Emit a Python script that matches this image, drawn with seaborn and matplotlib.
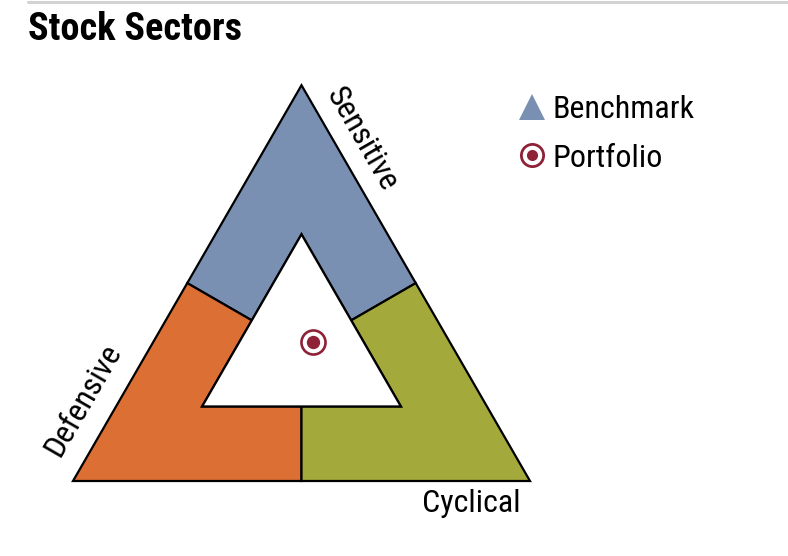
import numpy as np
import matplotlib
matplotlib.use("Agg")
import matplotlib.pyplot as plt
from matplotlib.patches import Polygon
from matplotlib.lines import Line2D
import seaborn as sns
import pandas as pd

# ---- data ----
sectors = ["Cyclical", "Sensitive", "Defensive"]
portfolio_pct = [35.0, 35.1, 29.9]   # cyclical, sensitive, defensive
legend_labels = ["Benchmark", "Portfolio"]
title = "Stock Sectors"

sns.set_theme(style="white")
plt.rcParams["font.family"] = ["Roboto Condensed", "DejaVu Sans"]
plt.rcParams["text.color"] = "black"

W, H = 788, 556
fig = plt.figure(figsize=(W / 100, H / 100), dpi=100)
h3 = np.sqrt(3) / 2
x0, x1, yb = 73, 530, 481
ax = fig.add_axes([x0 / W, (H - yb) / H, (x1 - x0) / W, (x1 - x0) * h3 / H])
ax.set_xlim(0, 1)
ax.set_ylim(0, h3)
ax.axis("off")

BL, BR, TOP = np.array([0, 0]), np.array([1, 0]), np.array([0.5, h3])
C = (BL + BR + TOP) / 3
k = 0.435
iBL, iBR, iTOP = C + k * (BL - C), C + k * (BR - C), C + k * (TOP - C)
mid = lambda a, b: (a + b) / 2

blue, orange, green, red = "#7a90b3", "#dc6f33", "#a3a93a", "#8e2237"
ec = dict(edgecolor="black", linewidth=1.6, joinstyle="miter")

sens = [mid(BL, TOP), TOP, mid(TOP, BR), mid(iTOP, iBR), iTOP, mid(iBL, iTOP)]
defe = [BL, mid(BL, BR), mid(iBL, iBR), iBL, mid(iBL, iTOP), mid(BL, TOP)]
cycl = [mid(BL, BR), BR, mid(TOP, BR), mid(iTOP, iBR), iBR, mid(iBL, iBR)]
for pts, col in [(sens, blue), (defe, orange), (cycl, green)]:
    ax.add_patch(Polygon(np.array(pts), closed=True, facecolor=col, clip_on=False, **ec))
ax.add_patch(Polygon(np.array([iBL, iBR, iTOP]), closed=True, facecolor="white", clip_on=False, **ec))

# portfolio point from ternary percentages
cy, se, de = [v / 100 for v in portfolio_pct]
px = cy * BR[0] + se * TOP[0] + de * BL[0]
py = cy * BR[1] + se * TOP[1] + de * BL[1]
df = pd.DataFrame({"x": [px], "y": [py]})
sns.scatterplot(data=df, x="x", y="y", ax=ax, s=300, color="white",
                edgecolor=red, linewidth=1.9, legend=False, zorder=5, clip_on=False)
sns.scatterplot(data=df, x="x", y="y", ax=ax, s=92, color=red,
                edgecolor=red, linewidth=0, legend=False, zorder=6, clip_on=False)
ax.set_xlabel("")
ax.set_ylabel("")

# axis labels
fs = 23
fig.text(362 / W, 1 - 139 / H, sectors[1], rotation=-60, ha="center", va="center", fontsize=fs)
fig.text(83 / W, 1 - 400 / H, sectors[2], rotation=60, ha="center", va="center", fontsize=fs)
fig.text(471 / W, 1 - 503 / H, sectors[0], ha="center", va="center", fontsize=fs)

# title and top rule
fig.text(28 / W, 1 - 30 / H, title, ha="left", va="center", fontsize=27.5, fontweight="bold")
fig.add_artist(Line2D([28 / W, 1], [1 - 2 / H, 1 - 2 / H], color="#d3d3d3", linewidth=2.2))

# legend
h_bench = Line2D([], [], marker="^", linestyle="none", markersize=19, color=blue, markeredgewidth=0)
h_p1 = Line2D([], [], marker="o", linestyle="none", markersize=16, markerfacecolor="white",
              markeredgecolor=red, markeredgewidth=2.0)
h_p2 = Line2D([], [], marker="o", linestyle="none", markersize=8, color=red, markeredgewidth=0)
fig.legend([h_bench, (h_p1, h_p2)], legend_labels, loc="upper left",
           bbox_to_anchor=(505 / W, 1 - 82 / H), frameon=False, fontsize=fs,
           handlelength=0.9, handletextpad=0.2, labelspacing=0.62, borderaxespad=0)

fig.savefig("out.png", dpi=100)
